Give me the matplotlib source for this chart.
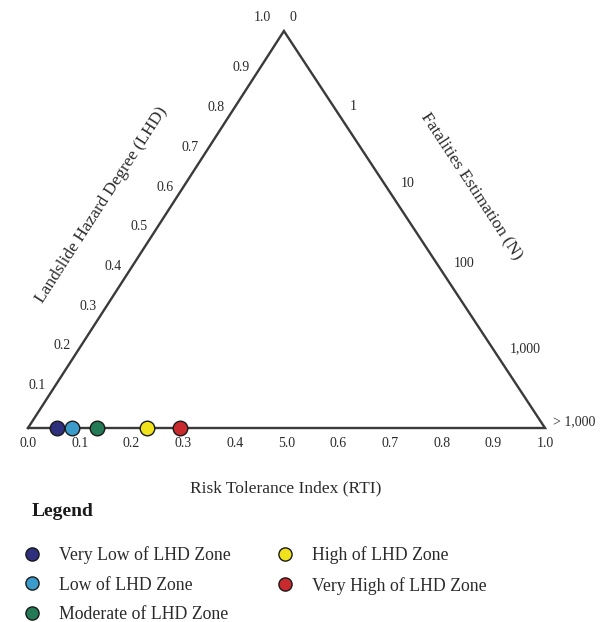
import matplotlib
matplotlib.use('Agg')
import matplotlib.pyplot as plt
from matplotlib.lines import Line2D

plt.rcParams['font.family'] = ['Liberation Serif', 'DejaVu Serif']

# DATA
zones = ['Very Low of LHD Zone', 'Low of LHD Zone', 'Moderate of LHD Zone',
         'High of LHD Zone', 'Very High of LHD Zone']
zone_colors = ['#2e2f7d', '#3b9ccc', '#237a55', '#f0e21c', '#c92a2e']
zone_rti = [0.056, 0.085, 0.133, 0.230, 0.294]
zone_lhd = [0.0, 0.0, 0.0, 0.0, 0.0]

rti_ticks = [0.0, 0.1, 0.2, 0.3, 0.4, 0.5, 0.6, 0.7, 0.8, 0.9, 1.0]
rti_labels = ['0.0', '0.1', '0.2', '0.3', '0.4', '5.0', '0.6', '0.7', '0.8', '0.9', '1.0']

lhd_ticks = [0.1, 0.2, 0.3, 0.4, 0.5, 0.6, 0.7, 0.8, 0.9]
lhd_labels = ['0.1', '0.2', '0.3', '0.4', '0.5', '0.6', '0.7', '0.8', '0.9']

n_ticks = [0.19, 0.385, 0.585, 0.80]
n_labels = ['1', '10', '100', '1,000']

# triangle apex position along the base
APEX_X = 0.495
LINE_COLOR = '#3a3a3a'
TEXT_COLOR = '#2a2a2a'

fig = plt.figure(figsize=(6.13, 6.22), dpi=100)
ax = fig.add_axes([28 / 613, 194 / 622, 517 / 613, 397 / 622])
ax.set_xlim(0, 1)
ax.set_ylim(0, 1)
ax.axis('off')

# TRIANGLE
ax.plot([0, APEX_X, 1, 0], [0, 1, 0, 0], color=LINE_COLOR, lw=1.7,
        solid_joinstyle='miter', clip_on=False, zorder=2)

# ZONE POINTS on the base
for rti, lhd, c in zip(zone_rti, zone_lhd, zone_colors):
    ax.plot(rti, lhd, 'o', ms=10.5, mfc=c, mec='#1a1a1a', mew=1.0,
            clip_on=False, zorder=3)

# BOTTOM TICK LABELS
for x, lbl in zip(rti_ticks, rti_labels):
    ax.annotate(lbl, (x, 0), xytext=(0, -11.5), textcoords='offset points',
                ha='center', va='center', fontsize=10, color=TEXT_COLOR)

# LEFT TICK LABELS
for v, lbl in zip(lhd_ticks, lhd_labels):
    ax.annotate(lbl, (APEX_X * v, v), xytext=(-6, 2), textcoords='offset points',
                ha='right', va='center', fontsize=10, color=TEXT_COLOR)
ax.annotate('1.0', (APEX_X, 1), xytext=(-9, 9.5), textcoords='offset points',
            ha='right', va='center', fontsize=10, color=TEXT_COLOR)

# RIGHT TICK LABELS
for t, lbl in zip(n_ticks, n_labels):
    ax.annotate(lbl, (APEX_X + (1 - APEX_X) * t, 1 - t), xytext=(12, 0),
                textcoords='offset points', ha='left', va='center',
                fontsize=10, color=TEXT_COLOR)
ax.annotate('0', (APEX_X, 1), xytext=(4, 10), textcoords='offset points',
            ha='left', va='center', fontsize=10, color=TEXT_COLOR)
ax.annotate('> 1,000', (1, 0), xytext=(6, 4.3), textcoords='offset points',
            ha='left', va='center', fontsize=10, color=TEXT_COLOR)

# AXIS TITLES
ax.text(0.142, 0.562, 'Landslide Hazard Degree (LHD)', rotation=57.2,
        rotation_mode='anchor', ha='center', va='center', fontsize=12.5,
        color=TEXT_COLOR)
ax.text(0.858, 0.610, 'Fatalities Estimation (N)', rotation=-56.7,
        rotation_mode='anchor', ha='center', va='center', fontsize=12.5,
        color=TEXT_COLOR)
ax.text(0.499, -0.151, 'Risk Tolerance Index (RTI)', ha='center', va='center',
        fontsize=12.5, color=TEXT_COLOR)

# LEGEND
fig.text(32 / 613, 1 - 512 / 622, 'Legend', ha='left', va='center',
         fontsize=14, fontweight='bold', color='#1a1a1a')
handles = [Line2D([], [], ls='none', marker='o', ms=9.5, mfc=c, mec='#1a1a1a',
                  mew=1.0) for c in zone_colors]
fig.legend(handles, zones, loc='upper left',
           bbox_to_anchor=(23 / 613, 1 - 546 / 622), ncol=2, frameon=False,
           fontsize=12.8, borderpad=0, borderaxespad=0, handlelength=1.0,
           handletextpad=1.05, columnspacing=2.5, labelspacing=0.72,
           labelcolor=TEXT_COLOR)

fig.savefig('out.png', dpi=100)
